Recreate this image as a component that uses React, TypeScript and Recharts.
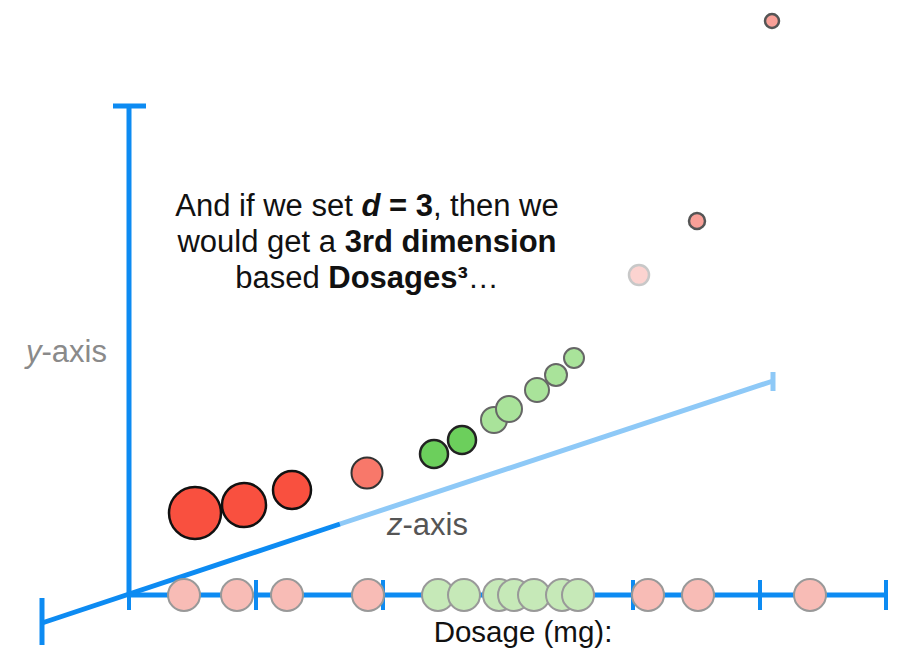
import React from "react";
import { ScatterChart, Scatter, XAxis, YAxis, ReferenceLine, ReferenceDot } from "recharts";

// Projected positions (x = horizontal units, h = height units), r = apparent size
const bottomPink = [
  { x: 184, h: 70, r: 16 },
  { x: 237, h: 70, r: 16 },
  { x: 287, h: 70, r: 16 },
  { x: 368, h: 70, r: 16 },
  { x: 648, h: 70, r: 16 },
  { x: 698, h: 70, r: 16 },
  { x: 810, h: 70, r: 16 },
];
const bottomGreen = [
  { x: 438, h: 70, r: 16 },
  { x: 464, h: 70, r: 16 },
  { x: 499, h: 70, r: 16 },
  { x: 514, h: 70, r: 16 },
  { x: 534, h: 70, r: 16 },
  { x: 562, h: 70, r: 16 },
  { x: 578, h: 70, r: 16 },
];
const raisedRedDark = [
  { x: 195, h: 152, r: 26 },
  { x: 244, h: 160, r: 22 },
  { x: 292, h: 175, r: 19 },
];
const raisedRedLight = [{ x: 367, h: 192, r: 15.5 }];
const raisedGreenDark = [
  { x: 434, h: 211, r: 14 },
  { x: 462, h: 225, r: 14 },
];
const raisedGreenLight = [
  { x: 494, h: 245, r: 13 },
  { x: 509, h: 256, r: 13 },
  { x: 537, h: 275, r: 12 },
  { x: 556, h: 290, r: 11 },
  { x: 574, h: 307, r: 10 },
];
const farPink = [
  { x: 639, h: 390, r: 10, fade: true },
  { x: 697, h: 444, r: 8 },
  { x: 772, h: 644, r: 7 },
];

const bottomTicks = [256, 383, 633, 760, 886];

const BLUE = "#0d8bf2";
const LIGHTBLUE = "#8ec9f7";
const FONT = "'Liberation Sans', Arial, Helvetica, sans-serif";

const circleShape = (fill: string, stroke: string, sw: number) => (props: any) => {
  const { cx, cy, payload } = props;
  const fade = payload && payload.fade;
  return (
    <circle
      cx={cx}
      cy={cy}
      r={payload.r}
      fill={fade ? "#fcd3d0" : fill}
      stroke={fade ? "#c8c8c8" : stroke}
      strokeWidth={sw}
    />
  );
};

const TitleLabel = (props: any) => {
  const { viewBox } = props;
  const x = viewBox.x;
  const y = viewBox.y;
  return (
    <text x={x} y={y} textAnchor="middle" fontFamily={FONT} fontSize={31} fill="#111">
      <tspan x={x} dy={0}>
        And if we set <tspan fontWeight="bold" fontStyle="italic">d</tspan>
        <tspan fontWeight="bold"> = 3</tspan>, then we
      </tspan>
      <tspan x={x} dy={36}>
        would get a <tspan fontWeight="bold">3rd dimension</tspan>
      </tspan>
      <tspan x={x} dy={36}>
        based <tspan fontWeight="bold">Dosages³</tspan>…
      </tspan>
    </text>
  );
};

const AxisName = (letter: string, color: string, size: number) => (props: any) => {
  const { viewBox } = props;
  return (
    <text x={viewBox.x} y={viewBox.y} fontFamily={FONT} fontSize={size} fill={color}>
      <tspan fontStyle="italic">{letter}</tspan>-axis
    </text>
  );
};

const DosageLabel = (props: any) => {
  const { viewBox } = props;
  return (
    <text x={viewBox.x} y={viewBox.y} textAnchor="middle" fontFamily={FONT} fontSize={29.5} fill="#111">
      Dosage (mg):
    </text>
  );
};

export default function App() {
  return (
    <div style={{ position: "absolute", left: 0, top: 0, width: 921, height: 665, background: "#fff" }}>
      <ScatterChart width={921} height={665} margin={{ top: 0, right: 0, bottom: 0, left: 0 }}>
        <XAxis type="number" dataKey="x" domain={[0, 921]} hide allowDataOverflow />
        <YAxis type="number" dataKey="h" domain={[0, 665]} hide allowDataOverflow />

        {/* y-axis */}
        <ReferenceLine segment={[{ x: 129, y: 70 }, { x: 129, y: 559 }]} stroke={BLUE} strokeWidth={5} ifOverflow="visible" />
        <ReferenceLine segment={[{ x: 113, y: 559 }, { x: 146, y: 559 }]} stroke={BLUE} strokeWidth={5} ifOverflow="visible" />

        {/* z-axis */}
        <ReferenceLine segment={[{ x: 340, y: 141 }, { x: 773, y: 284 }]} stroke={LIGHTBLUE} strokeWidth={5} ifOverflow="visible" />
        <ReferenceLine segment={[{ x: 42, y: 42 }, { x: 340, y: 141 }]} stroke={BLUE} strokeWidth={5} ifOverflow="visible" />
        <ReferenceLine segment={[{ x: 42, y: 20 }, { x: 42, y: 67 }]} stroke={BLUE} strokeWidth={5} ifOverflow="visible" />
        <ReferenceLine segment={[{ x: 773, y: 274 }, { x: 773, y: 293 }]} stroke={LIGHTBLUE} strokeWidth={5} ifOverflow="visible" />

        {/* dosage axis */}
        <ReferenceLine segment={[{ x: 129, y: 70 }, { x: 886, y: 70 }]} stroke={BLUE} strokeWidth={5} ifOverflow="visible" />
        {bottomTicks.map((t) => (
          <ReferenceLine key={t} segment={[{ x: t, y: 55 }, { x: t, y: 85 }]} stroke={BLUE} strokeWidth={4} ifOverflow="visible" />
        ))}
        <ReferenceLine segment={[{ x: 129, y: 55 }, { x: 129, y: 85 }]} stroke={BLUE} strokeWidth={4} ifOverflow="visible" />

        <Scatter data={bottomPink} isAnimationActive={false} shape={circleShape("#f8bcb6", "#999", 2)} />
        <Scatter data={bottomGreen} isAnimationActive={false} shape={circleShape("#c6e9b8", "#999", 2)} />
        <Scatter data={raisedRedDark} isAnimationActive={false} shape={circleShape("#f9503f", "#111", 2.5)} />
        <Scatter data={raisedRedLight} isAnimationActive={false} shape={circleShape("#f8786a", "#333", 2)} />
        <Scatter data={raisedGreenDark} isAnimationActive={false} shape={circleShape("#6ccf5c", "#222", 2.5)} />
        <Scatter data={raisedGreenLight} isAnimationActive={false} shape={circleShape("#a9e39a", "#666", 2)} />
        <Scatter data={farPink} isAnimationActive={false} shape={circleShape("#f9a098", "#555", 2.5)} />

        <ReferenceDot x={367} y={449} r={0} fill="none" stroke="none" ifOverflow="visible" label={{ content: TitleLabel }} />
        <ReferenceDot x={26} y={303} r={0} fill="none" stroke="none" ifOverflow="visible" label={{ content: AxisName("y", "#8a8a8a", 31) }} />
        <ReferenceDot x={387} y={130} r={0} fill="none" stroke="none" ifOverflow="visible" label={{ content: AxisName("z", "#555", 31) }} />
        <ReferenceDot x={523} y={23} r={0} fill="none" stroke="none" ifOverflow="visible" label={{ content: DosageLabel }} />
      </ScatterChart>
    </div>
  );
}
